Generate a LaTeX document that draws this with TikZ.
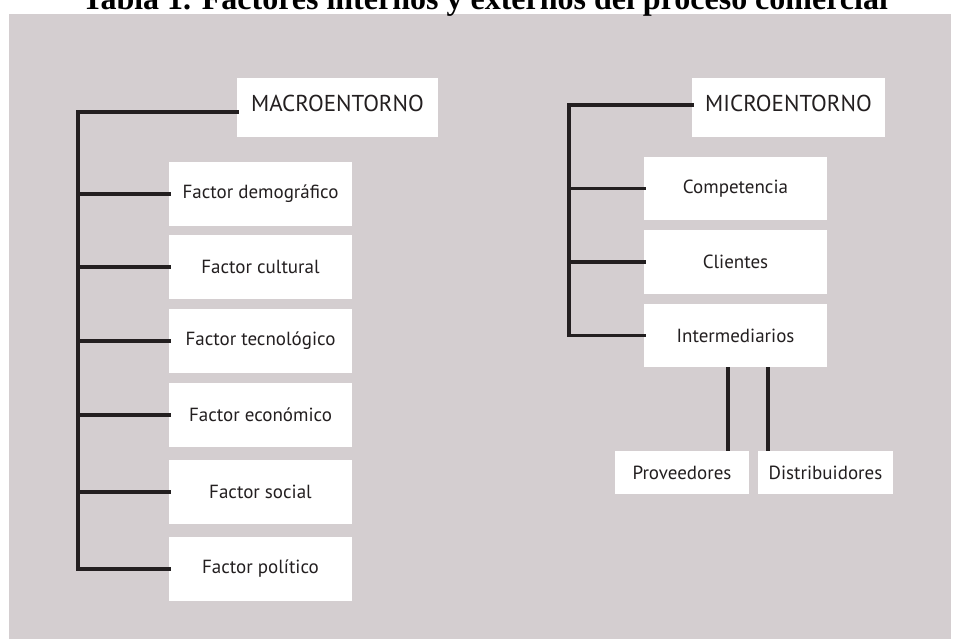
\documentclass[tikz,border=0pt]{standalone}
\usepackage{fontspec}
\setmainfont{Liberation Serif}
\newfontfamily\boxfont{PT Sans}
\definecolor{bggrey}{RGB}{212,206,208}
\definecolor{ink}{RGB}{35,31,32}
\begin{document}
\begin{tikzpicture}[x=1pt,y=-1pt,
  conn/.style={draw=ink,line width=3.8pt,line cap=rect},
  box/.style={fill=white,inner sep=0pt,text=ink,font=\boxfont\fontsize{19}{22}\selectfont},
  headbox/.style={box,font=\boxfont\fontsize{23}{26}\selectfont,text depth=8pt},
]
\useasboundingbox (0,0) rectangle (953,639);
\fill[bggrey] (9,14) rectangle (951,639);
\node[anchor=base,font=\bfseries\fontsize{32}{36}\selectfont] (title) at (485,9.5) {Tabla 1. Factores internos y externos del proceso comercial};

% left tree
\node[headbox,minimum width=201pt,minimum height=59pt] (macro) at (337.5,107.5) {MACROENTORNO};
\node[box,minimum width=183pt,minimum height=64pt] (demo) at (260.5,194) {Factor demográfico};
\node[box,minimum width=183pt,minimum height=64pt] (cult) at (260.5,267) {Factor cultural};
\node[box,minimum width=183pt,minimum height=64pt] (tecn) at (260.5,341) {Factor tecnológico};
\node[box,minimum width=183pt,minimum height=64pt] (econ) at (260.5,415) {Factor económico};
\node[box,minimum width=183pt,minimum height=64pt] (soci) at (260.5,492) {Factor social};
\node[box,minimum width=183pt,minimum height=64pt] (poli) at (260.5,569) {Factor político};

\coordinate (lt) at (78,112);
\coordinate (lb) at (78,569);
\draw[conn] (macro.west |- lt) -- (lt) -- (lb) -- (poli.west);
\foreach \n in {demo,cult,tecn,econ,soci}
  \draw[conn] (\n.west) -- (\n.west -| lt);

% right tree
\node[headbox,minimum width=193pt,minimum height=59pt] (micro) at (788.5,107.5) {MICROENTORNO};
\node[box,minimum width=183pt,minimum height=63pt] (comp) at (735.5,188.5) {Competencia};
\node[box,minimum width=183pt,minimum height=64pt] (clie) at (735.5,262) {Clientes};
\node[box,minimum width=183pt,minimum height=63pt] (inte) at (735.5,335.5) {Intermediarios};
\node[box,minimum width=134pt,minimum height=43pt] (prov) at (682,472.5) {Proveedores};
\node[box,minimum width=135pt,minimum height=43pt] (dist) at (825.5,472.5) {Distribuidores};

\coordinate (rt) at (569,105);
\coordinate (rb) at (569,335.5);
\draw[conn] (micro.west |- rt) -- (rt) -- (rb) -- (inte.west);
\foreach \n in {comp,clie}
  \draw[conn] (\n.west) -- (\n.west -| rt);

\coordinate (pa) at (728,0);
\coordinate (da) at (768,0);
\draw[conn,line cap=butt] (inte.south -| pa) -- (prov.north -| pa);
\draw[conn,line cap=butt] (inte.south -| da) -- (dist.north -| da);
\end{tikzpicture}
\end{document}
